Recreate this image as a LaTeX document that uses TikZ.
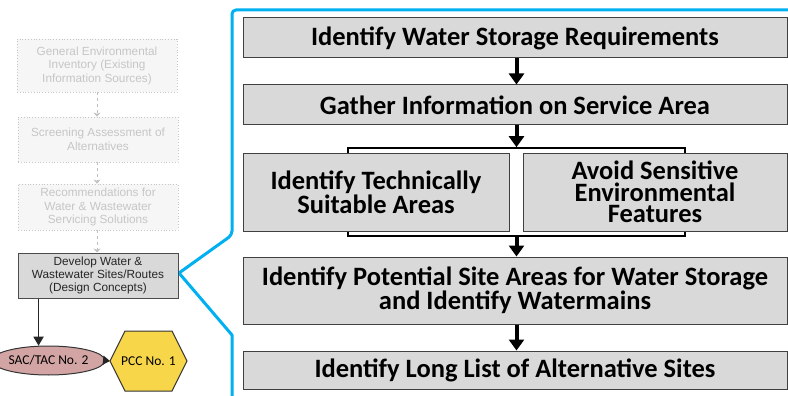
\documentclass[tikz,border=0pt]{standalone}
\usepackage{fontspec}
\setmainfont{Carlito}
\newfontfamily\franklin{Liberation Sans}
\usetikzlibrary{arrows.meta,shapes.geometric,calc}
\definecolor{boxgray}{HTML}{D9D9D9}
\definecolor{calloutblue}{HTML}{00B0F0}
\definecolor{rose}{HTML}{D3A4A4}
\definecolor{hexyellow}{HTML}{F8D64A}
\begin{document}
\begin{tikzpicture}[x=1pt,y=-1pt,
  bigbox/.style={draw=black!75, line width=1pt, fill=boxgray, minimum width=544pt, inner sep=0pt, align=center, font=\fontsize{26.5}{21.5}\selectfont\bfseries},
  subbox/.style={bigbox, minimum height=78pt},
  bracketbox/.style={draw=black, line width=1.6pt, fill=white, minimum width=337pt, minimum height=88pt, inner sep=0pt},
  fadedbox/.style={draw=gray!45, dotted, line width=0.8pt, fill=gray!7, minimum width=160pt, inner sep=0pt, align=center, text=gray!45, font=\franklin\fontsize{11.8}{13.5}\selectfont},
  devbox/.style={draw=black!70, line width=1pt, fill=boxgray, minimum width=160pt, minimum height=45pt, inner sep=0pt, align=center, text=black!85, font=\franklin\fontsize{11.8}{13}\selectfont},
  bigarrow/.style={line width=4pt, -{Triangle[width=15pt,length=11pt]}},
  fadedarrow/.style={draw=gray!50, dashed, line width=0.8pt, -{Stealth[length=4pt,width=7pt]}},
  smallarrow/.style={line width=1.6pt, black!85, -{Triangle[width=10pt,length=9pt]}},
  blueline/.style={draw=calloutblue, line width=3pt, line join=round},
  ]
\useasboundingbox (0,0) rectangle (788,396);

% callout lines
\coordinate (devE) at (179,273);
\draw[blueline, rounded corners=4pt] (devE) -- (232,235) -- (232,10) -- (790,10);
\draw[blueline] (devE) -- (232,335) -- (232,398);

% right-hand flow
\node[bigbox, minimum height=40pt] (b1) at (515,38) {Identify Water Storage Requirements};
\node[bigbox, minimum height=40pt] (b2) at (515,105) {Gather Information on Service Area};
\node[bracketbox] (br) at (516.5,192) {};
\node[subbox, minimum width=266pt] (sl) at (376,192) {Identify Technically\\Suitable Areas};
\node[subbox, minimum width=264pt] (sr) at (655,192) {Avoid Sensitive\\Environmental\\Features};
\node[bigbox, minimum height=67pt] (b4) at (515,290.5) {Identify Potential Site Areas for Water Storage\\and Identify Watermains};
\node[bigbox, minimum height=38pt] (b5) at (515,370) {Identify Long List of Alternative Sites};

\draw[bigarrow] (b1.south -| br.north) -- (b2.north -| br.north);
\draw[bigarrow] (b2.south -| br.north) -- (br.north);
\draw[bigarrow] (br.south) -- (b4.north -| br.south);
\draw[bigarrow] (b4.south -| br.north) -- (b5.north -| br.north);

% left-hand faded flow
\node[fadedbox, minimum height=53pt] (fa) at (97,65.5) {General Environmental\\Inventory (Existing\\Information Sources)};
\node[fadedbox, minimum height=45pt] (fb) at (98,139.5) {Screening Assessment of\\Alternatives};
\node[fadedbox, minimum height=46pt] (fc) at (98,207) {Recommendations for\\Water \& Wastewater\\Servicing Solutions};
\node[devbox] (dev) at (98,275.5) {Develop Water \&\\Wastewater Sites/Routes\\(Design Concepts)};

\draw[fadedarrow] (fa.south -| 97,0) -- (fb.north -| 97,0);
\draw[fadedarrow] (fb.south -| 97,0) -- (fc.north -| 97,0);
\draw[fadedarrow] (fc.south -| 97,0) -- (dev.north -| 97,0);

% SAC/TAC and PCC
\node[ellipse, draw=black!80, line width=1pt, fill=rose, minimum width=85pt, minimum height=29pt, inner sep=0pt, font=\fontsize{13.5}{14}\selectfont] (ell) at (48.5,360.5) {SAC/TAC No. 2};
\coordinate (hexL) at (110,361);
\draw[black!80, line width=1pt, fill=hexyellow] (hexL) -- (125,331) -- (172,331) -- (187,361) -- (172,391) -- (125,391) -- cycle;
\node[font=\fontsize{13.5}{14}\selectfont] (hex) at (148.5,361) {PCC No. 1};

\draw[smallarrow] (dev.south -| ell.124) -- (ell.124);
\draw[line width=1.4pt, black!85, -{Triangle[width=9pt,length=7pt]}] (ell.east) -- (hexL);
\end{tikzpicture}
\end{document}
